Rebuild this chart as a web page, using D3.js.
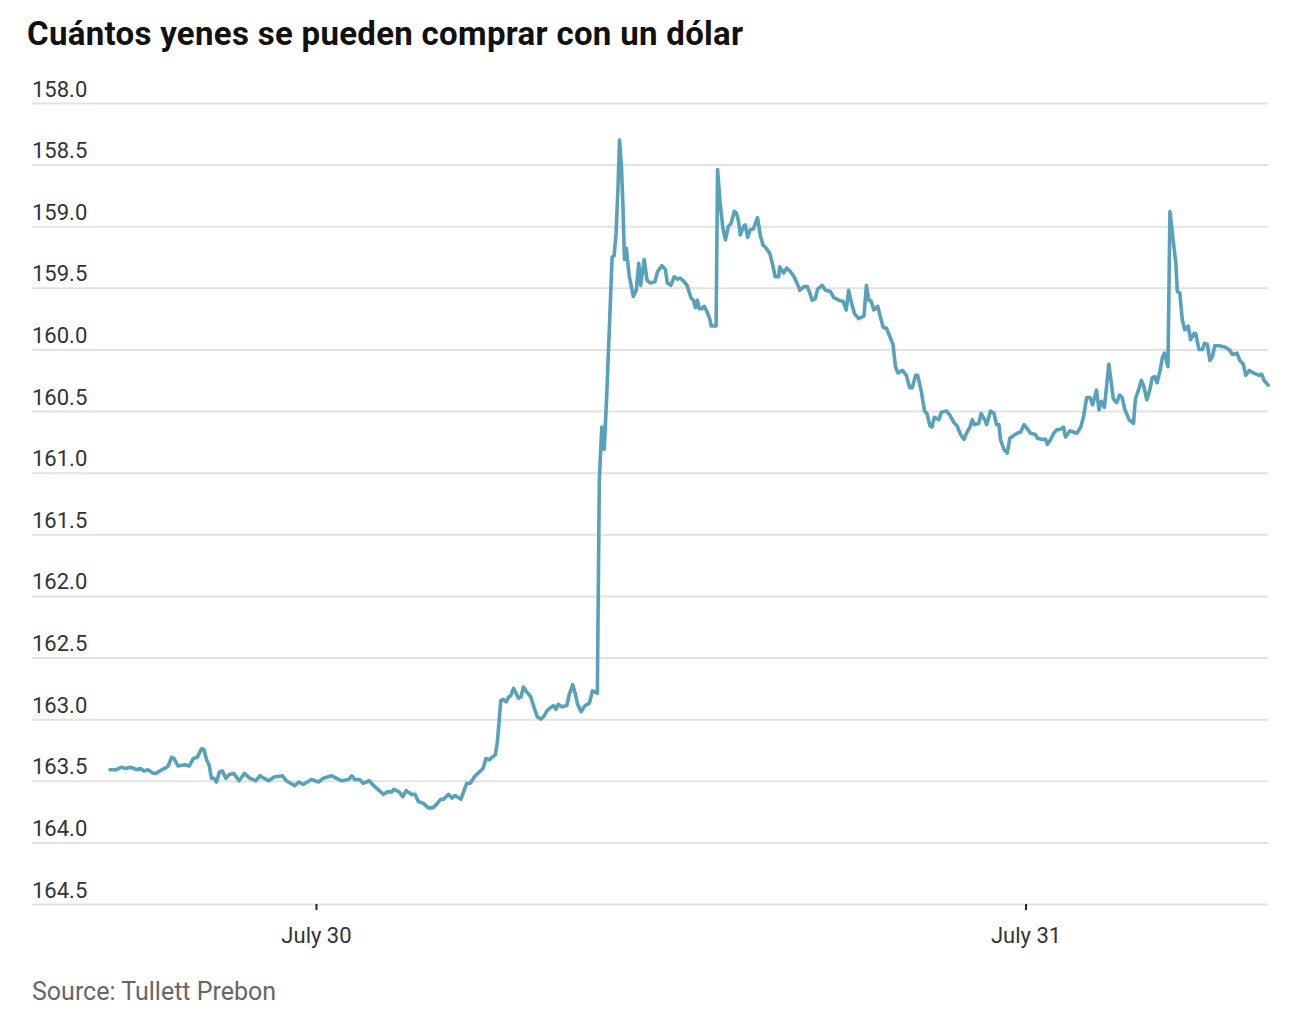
<!DOCTYPE html>
<html>
<head>
<meta charset="utf-8">
<script src="https://cdn.jsdelivr.net/npm/d3@7"></script>
<style>
  html, body { margin: 0; padding: 0; background: #fff; }
  svg { display: block; }
  .title { font-family: Roboto, "Liberation Sans", sans-serif; font-weight: 700; font-size: 33px; letter-spacing: 0.3px; fill: #111; }
  .lab { font-family: Roboto, "Liberation Sans", sans-serif; font-size: 22px; fill: #333; }
  .src { font-family: Roboto, "Liberation Sans", sans-serif; font-size: 25px; fill: #666; }
</style>
</head>
<body>
<svg id="chart" width="1300" height="1020"></svg>
<script>
// Minutes since 2024-07-29 00:00 UTC
const minutes = [
1022,1035,1045,1054,1064,1076,1084,1091,1099,1110,1115,1123,1133,1140,1147,1152,1160,1174,1183,1191,
1199,1208,1213,1218,1223,1228,1233,1238,1244,1250,1257,1264,1273,1284,1295,1306,1318,1326,1344,1355,
1372,1380,1397,1405,1414,1431,1445,1455,1472,1492,1506,1513,1519,1528,1536,1548,1560,1577,1585,1594,
1598,1609,1616,1623,1634,1641,1648,1657,1668,1677,1685,1693,1699,1709,1716,1722,1734,1746,1753,1763,
1779,1785,1792,1797,1804,1808,1812,1815,1820,1826,1831,1835,1841,1846,1851,1856,1861,1868,1876,1883,
1889,1896,1902,1909,1915,1922,1927,1932,1939,1949,1954,1961,1966,1971,1978,1986,1995,2001,2007,2011,
2015,2020,2025,2030,2036,2041,2045,2049,2053,2056,2060,2063,2066,2070,2072,2076,2084,2090,2095,2099,
2106,2112,2118,2128,2133,2142,2149,2153,2160,2167,2174,2179,2187,2193,2201,2206,2210,2214,2218,2223,
2228,2233,2239,2242,2252,2255,2260,2266,2271,2277,2282,2289,2293,2297,2301,2308,2311,2316,2321,2328,
2336,2342,2347,2354,2361,2366,2372,2379,2381,2389,2395,2401,2409,2416,2422,2430,2437,2442,2447,2453,
2458,2467,2474,2484,2491,2501,2510,2516,2521,2526,2533,2541,2552,2557,2562,2567,2572,2580,2585,2591,
2598,2606,2611,2616,2621,2630,2638,2645,2650,2657,2661,2668,2675,2680,2686,2690,2695,2704,2709,2720,
2726,2734,2741,2748,2755,2760,2767,2772,2776,2785,2790,2797,2801,2809,2816,2821,2826,2829,2836,2843,
2848,2855,2863,2870,2877,2883,2890,2900,2904,2914,2921,2924,2931,2937,2944,2950,2957,2961,2970,2984,
2992,2998,3004,3011,3016,3024,3029,3034,3040,3049,3054,3058,3065,3071,3076,3081,3087,3090,3099,3103,
3110,3115,3120,3126,3132,3137,3142,3147,3153,3158,3162,3169,3173,3178,3185,3188,3193,3198,3203,3210,
3215,3222,3225,3232,3239,3243,3249,3254,3259,3264,3273,3284,3293,3300,3309,3315,3322,3327,3334,3342,
3354,3359,3364,3372
];
// Yen per dollar
const yen = [
163.41,163.41,163.39,163.40,163.39,163.41,163.40,163.42,163.41,163.44,163.44,163.42,163.40,163.38,163.31,163.32,163.38,163.37,163.38,163.32,
163.31,163.24,163.25,163.33,163.37,163.48,163.48,163.51,163.43,163.42,163.48,163.45,163.44,163.50,163.44,163.48,163.50,163.46,163.50,163.47,
163.46,163.50,163.54,163.51,163.53,163.49,163.51,163.48,163.46,163.50,163.49,163.46,163.49,163.49,163.52,163.50,163.55,163.61,163.59,163.59,
163.57,163.59,163.63,163.58,163.61,163.61,163.67,163.68,163.72,163.72,163.69,163.65,163.65,163.61,163.64,163.62,163.65,163.52,163.52,163.46,
163.40,163.32,163.33,163.31,163.29,163.19,163.00,162.85,162.84,162.86,162.82,162.81,162.75,162.79,162.83,162.82,162.74,162.78,162.82,162.91,
162.98,163.00,162.98,162.93,162.91,162.89,162.92,162.88,162.90,162.89,162.80,162.72,162.79,162.88,162.94,162.89,162.87,162.77,162.78,162.79,
161.06,160.63,160.81,160.38,159.76,159.25,159.24,159.06,158.68,158.30,158.52,158.84,159.27,159.18,159.27,159.41,159.57,159.52,159.30,159.48,
159.27,159.44,159.46,159.45,159.37,159.32,159.35,159.46,159.48,159.41,159.43,159.42,159.45,159.48,159.58,159.60,159.66,159.60,159.67,159.67,
159.65,159.69,159.75,159.81,159.81,158.54,158.81,159.02,159.11,159.00,158.98,158.88,158.89,158.95,159.07,159.00,158.99,159.09,159.03,159.02,
158.93,159.08,159.15,159.18,159.22,159.30,159.41,159.41,159.33,159.38,159.34,159.36,159.40,159.46,159.52,159.49,159.49,159.54,159.60,159.59,
159.51,159.48,159.52,159.53,159.58,159.60,159.61,159.68,159.52,159.61,159.71,159.75,159.73,159.48,159.60,159.61,159.68,159.65,159.73,159.82,
159.83,159.91,159.96,160.14,160.19,160.17,160.21,160.31,160.31,160.21,160.21,160.33,160.50,160.52,160.62,160.63,160.55,160.57,160.51,160.50,
160.53,160.59,160.62,160.69,160.73,160.68,160.63,160.57,160.61,160.60,160.52,160.57,160.61,160.50,160.52,160.61,160.61,160.73,160.81,160.84,
160.72,160.70,160.68,160.67,160.61,160.64,160.68,160.69,160.72,160.73,160.73,160.77,160.73,160.68,160.65,160.65,160.63,160.71,160.66,160.68,
160.63,160.54,160.39,160.39,160.45,160.33,160.49,160.42,160.47,160.12,160.27,160.40,160.43,160.37,160.39,160.48,160.54,160.57,160.60,160.40,
160.32,160.25,160.30,160.41,160.33,160.23,160.22,160.27,160.17,160.06,160.03,160.14,158.88,159.06,159.30,159.53,159.54,159.76,159.84,159.81,
159.92,159.87,159.87,160.00,160.00,159.95,159.96,160.09,160.06,159.97,159.97,159.98,160.00,160.04,160.03,160.09,160.12,160.21,160.17,160.19,
160.21,160.20,160.25,160.29
];
const yTicks = [158.0,158.5,159.0,159.5,160.0,160.5,161.0,161.5,162.0,162.5,163.0,163.5,164.0,164.5];
const xTickDates = ["2024-07-30","2024-07-31"];
const xTickLabels = ["July 30","July 31"];
const titleText = "Cuántos yenes se pueden comprar con un dólar";
const sourceText = "Source: Tullett Prebon";

const base = Date.UTC(2024, 6, 29);
const data = minutes.map((m, i) => ({ t: new Date(base + m * 60000), v: yen[i] }));

const svg = d3.select("#chart");
const gridLeft = 32, plotLeft = 110, plotRight = 1268, plotTop = 103, plotBottom = 904;

const x = d3.scaleUtc().domain(d3.extent(data, d => d.t)).range([plotLeft, plotRight]);
const y = d3.scaleLinear().domain([158, 164.5]).range([plotTop, plotBottom]);

svg.append("text").attr("class", "title").attr("x", 27).attr("y", 45).text(titleText);

// Horizontal gridlines + labels
const yAxis = d3.axisLeft(y).tickValues(yTicks).tickSize(-(plotRight - gridLeft)).tickFormat(d3.format(".1f"));
const gy = svg.append("g").attr("transform", `translate(${gridLeft},0)`).call(yAxis);
gy.select(".domain").remove();
gy.selectAll(".tick line").attr("stroke", "#e2e2e2").attr("stroke-width", 2);
gy.selectAll(".tick text")
  .attr("class", "lab")
  .attr("x", 0).attr("dy", null).attr("y", -7)
  .attr("text-anchor", "start");

// X axis
const xAxis = d3.axisBottom(x)
  .tickValues(xTickDates.map(s => new Date(s + "T00:00:00Z")))
  .tickSize(6)
  .tickFormat((d, i) => xTickLabels[i]);
const gx = svg.append("g").attr("transform", `translate(0,${plotBottom})`).call(xAxis);
gx.select(".domain").remove();
gx.selectAll(".tick line").attr("stroke", "#222").attr("stroke-width", 2);
gx.selectAll(".tick text").attr("class", "lab").attr("y", 39).attr("dy", null);

// Line
const line = d3.line().x(d => x(d.t)).y(d => y(d.v)).curve(d3.curveLinear);
svg.append("path").datum(data)
  .attr("d", line)
  .attr("fill", "none")
  .attr("stroke", "#57a2ba")
  .attr("stroke-width", 3.6)
  .attr("stroke-linejoin", "round")
  .attr("stroke-linecap", "round");

svg.append("text").attr("class", "src").attr("x", 32).attr("y", 1000).text(sourceText);
</script>
</body>
</html>
